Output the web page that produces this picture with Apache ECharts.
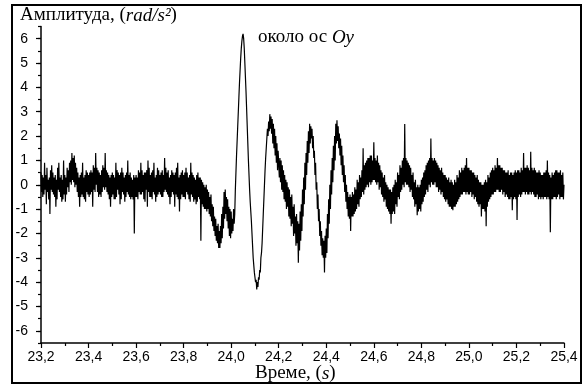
<!DOCTYPE html>
<html><head><meta charset="utf-8">
<script src="https://cdn.jsdelivr.net/npm/echarts@6/dist/echarts.min.js"></script>
<style>html,body{margin:0;padding:0;background:#fff}#c{width:588px;height:387px}</style>
</head><body><div id="c"></div>
<script>
// sampling grid of the trace (seconds)
const startTime = 23.2;
const sampleStep = 0.0025;
// amplitude, 4 samples per 0.01 s (rad/s^2)
const amplitude = [
// 23.2
0.5,-0.3,0.4,-0.5, 0.3,-0.4,0.9,-0.2, 0.4,-0.8,0.7,-0.3, 0.2,-0.6,0.3,-1.2, 0.6,-0.2,0.8,-0.3,
0.5,-0.4,0.3,-0.5, 0.4,-0.9,0.2,-0.6, 0.7,-0.2,0.9,-0.3, 0.3,-0.5,0.4,-0.7, 0.2,-0.6,1.0,-0.4,
// 23.3
0.4,-0.7,0.3,-0.4, 0.7,-0.1,0.6,-0.3, 0.9,0.1,1.0,0.0, 1.3,0.2,1.1,0.1, 1.2,-0.1,0.9,0.0,
0.7,-0.3,0.5,-0.5, 0.3,-0.9,0.4,-0.5, 0.5,-0.4,0.9,-0.5, 0.3,-0.6,0.4,-0.7, 0.6,-0.3,0.5,-0.4,
// 23.4
0.4,-0.5,0.5,-0.4, 0.6,-0.3,0.5,-0.9, 0.8,-0.2,0.7,-0.3, 1.3,0.0,0.7,-0.3, 0.6,-0.5,0.5,-0.4,
0.4,-0.5,0.6,-0.3, 0.8,-0.1,0.7,-0.2, 1.3,-0.1,0.6,-0.3, 0.5,-0.4,0.4,-0.6, 0.3,-0.9,0.4,-0.5,
// 23.5
0.5,-0.4,0.4,-0.6, 0.3,-0.6,0.9,-0.5, 0.6,-0.2,0.5,-0.4, 0.4,-0.8,0.5,-0.6, 0.7,-0.3,0.5,-0.4,
0.3,-0.7,0.4,-0.5, 0.5,-0.3,1.0,-0.4, 0.4,-0.5,0.5,-0.6, 0.3,-0.5,0.2,-0.6, 0.4,-2.0,0.3,-0.5,
// 23.6
0.4,-0.5,0.3,-0.6, 0.6,-0.3,0.5,-0.4, 0.9,-0.4,0.6,-0.3, 0.4,-0.6,0.5,-0.7, 0.5,-0.2,0.6,-0.9,
1.0,-0.3,0.7,-0.5, 0.4,-0.5,0.5,-0.6, 0.6,-0.3,0.9,-0.4, 0.3,-0.7,0.4,-0.5, 0.7,-0.4,0.6,-0.3,
// 23.7
0.4,-0.4,0.5,-0.5, 0.6,-0.5,0.4,-0.3, 1.1,-0.2,0.7,-0.3, 0.5,-0.4,0.6,-0.5, 0.3,-0.8,0.4,-0.5,
0.6,-0.3,0.5,-0.4, 0.4,-0.9,0.5,-0.4, 0.7,-0.5,0.9,-0.6, 0.3,-1.1,0.4,-0.6, 0.5,-0.4,0.6,-0.5,
// 23.8
0.4,-0.5,0.5,-0.6, 0.7,-0.3,0.5,-0.4, 0.3,-0.6,0.4,-0.7, 0.9,-0.4,0.5,-0.5, 0.4,-0.7,0.3,-0.6,
0.2,-0.8,0.4,-0.7, 0.5,-0.5,0.3,-0.6, 0.3,-2.3,0.2,-0.8, 0.1,-0.9,0.0,-1.0, -0.1,-1.0,0.0,-1.1,
// 23.9
-0.2,-1.0,-0.3,-1.2, -0.5,-1.3,-0.4,-1.5, -0.8,-1.7,-0.9,-1.9, -1.3,-2.1,-1.4,-2.3, -1.7,-2.4,-1.6,-2.6,
-1.9,-2.6,-1.7,-2.4, -1.2,-2.2,-0.9,-1.8, -0.3,-1.4,-0.2,-1.2, -0.5,-1.5,-0.6,-1.8, -0.9,-2.1,-1.0,-2.2,
// 24.0
-1.1,-2.0,-1.4,-1.9, -1.0,-1.6,-1.2,-0.2, 0.5,1.2,1.8,2.4, 3.0,3.6,4.2,4.7, 5.2,5.6,5.9,6.1,
6.2,6.0,5.6,5.0, 4.4,3.8,3.1,2.4, 1.7,1.0,0.4,-0.2, -0.7,-1.1,-1.5,-2.0, -2.5,-3.0,-3.3,-3.6,
// 24.1
-3.8,-4.0,-3.9,-4.3, -4.0,-4.2,-3.8,-3.9, -3.5,-3.6,-3.0,-2.8, -2.4,-1.8,-1.2,-0.6, 0.0,0.6,1.1,1.5,
1.9,2.3,2.0,2.6, 2.2,2.9,2.3,2.8, 2.1,2.7,1.7,2.5, 1.5,2.3,1.2,2.0, 0.9,1.7,0.6,1.4,
// 24.2
1.4,0.3,1.1,0.1, 1.0,-0.2,0.8,-0.3, 0.6,-0.6,0.4,-0.7, 0.2,-1.0,0.1,-0.9, -0.1,-1.3,-0.2,-1.4,
-0.5,-1.7,-0.4,-1.6, -0.9,-2.1,-0.8,-2.0, -1.3,-2.5,-1.2,-2.4, -1.5,-3.2,-1.6,-2.7, -1.1,-2.3,-0.8,-1.9,
// 24.3
-0.2,-1.3,0.3,-0.8, 0.9,-0.2,1.3,0.4, 1.8,0.9,2.2,1.3, 2.5,1.7,2.4,1.9, 2.3,1.5,2.0,1.1,
1.4,0.4,0.9,-0.2, 0.1,-1.0,-0.4,-1.5, -1.0,-2.1,-1.5,-2.5, -1.9,-2.9,-2.2,-3.0, -2.3,-3.6,-2.1,-3.0,
// 24.4
-1.8,-2.8,-1.2,-2.2, -0.6,-1.6,0.0,-1.0, 0.6,-0.4,1.1,0.1, 1.6,0.6,2.0,1.0, 2.5,1.7,2.65,1.8,
2.4,1.5,2.1,1.2, 1.9,0.8,1.6,0.4, 1.2,0.1,0.8,-0.3, 0.4,-0.7,0.0,-1.0, -0.3,-1.3,-0.5,-1.4,
// 24.5
-0.4,-1.9,-0.5,-1.3, -0.3,-1.3,-0.4,-1.2, -0.1,-1.1,-0.2,-1.0, 0.2,-0.8,0.1,-0.9, 0.4,-0.6,0.3,-0.5,
0.6,-0.3,1.5,-0.4, 0.8,-0.2,0.9,-0.1, 1.0,0.0,1.1,-0.1, 1.1,0.1,1.2,0.0, 1.2,0.1,1.0,0.2,
// 24.6
1.75,0.2,1.1,0.1, 1.0,0.0,1.2,0.1, 0.9,-0.2,0.8,-0.1, 0.6,-0.4,0.5,-0.5, 0.3,-0.7,0.4,-0.6,
0.1,-0.9,0.0,-1.0, -0.1,-1.1,-0.2,-1.2, -0.2,-1.6,-0.3,-1.2, -0.1,-1.1,0.0,-1.2, 0.2,-0.8,0.1,-0.9,
// 24.7
0.5,-0.5,0.4,-0.6, 0.8,-0.3,0.7,-0.2, 1.0,0.0,1.1,-0.1, 2.5,0.1,1.1,0.0, 1.0,0.0,0.9,-0.1,
0.8,-0.3,0.7,-0.2, 0.4,-0.5,0.5,-0.6, 0.1,-0.9,0.2,-0.8, -0.1,-1.25,0.0,-1.1, -0.1,-1.0,0.0,-1.1,
// 24.8
0.2,-0.8,0.3,-0.7, 0.5,-0.5,0.6,-0.4, 0.8,-0.2,0.9,-0.3, 1.0,0.0,1.1,-0.1, 1.9,0.1,1.1,0.0,
1.0,0.0,1.1,0.1, 1.0,-0.1,0.9,-0.1, 0.8,-0.3,0.7,-0.2, 0.6,-0.4,0.7,-0.3, 0.5,-0.5,0.4,-0.6,
// 24.9
0.4,-0.7,0.3,-0.6, 0.2,-0.8,0.3,-0.9, 0.1,-0.9,0.2,-1.0, 0.1,-1.05,0.0,-0.9, 0.2,-0.9,0.1,-0.8,
0.4,-0.7,0.3,-0.6, 0.6,-0.5,0.5,-0.4, 0.7,-0.4,0.6,-0.3, 0.7,-0.3,0.8,-0.4, 1.1,-0.3,0.7,-0.4,
// 25.0
0.7,-0.4,0.6,-0.3, 0.6,-0.5,0.5,-0.4, 0.5,-0.6,0.4,-0.5, 0.3,-0.7,0.4,-0.8, 0.2,-0.9,0.1,-0.8,
0.1,-1.3,0.0,-1.0, 0.0,-1.0,0.1,-1.1, 0.2,-1.7,0.1,-0.9, 0.4,-0.7,0.3,-0.6, 0.5,-0.5,0.6,-0.4,
// 25.1
0.7,-0.4,0.6,-0.3, 0.8,-0.3,0.7,-0.2, 1.1,-0.2,0.8,-0.3, 0.8,-0.3,0.7,-0.2, 0.7,-0.4,0.6,-0.3,
0.6,-0.5,0.5,-0.4, 0.5,-0.5,0.6,-0.6, 0.4,-0.6,0.5,-0.5, 0.5,-1.05,0.4,-0.6, 0.5,-0.5,0.6,-0.6,
// 25.2
0.5,-1.45,0.6,-0.5, 0.6,-0.4,0.5,-0.5, 0.7,-0.4,0.6,-0.3, 1.3,-0.3,0.7,-0.4, 0.7,-0.3,0.8,-0.4,
0.7,-0.4,0.6,-0.3, 1.35,-0.4,0.7,-0.3, 0.6,-0.4,0.7,-0.5, 0.6,-0.5,0.5,-0.4, 0.5,-0.6,0.6,-0.5,
// 25.3
0.5,-0.6,0.4,-0.5, 0.4,-0.6,0.5,-0.5, 0.5,-0.5,0.6,-0.6, 1.0,-0.5,0.5,-0.6, 0.4,-1.95,0.3,-0.6,
0.5,-0.6,0.4,-0.5, 0.5,-0.5,0.6,-0.6, 0.6,-0.5,0.5,-0.4, 0.5,-0.6,0.6,-0.5, 0.4,-0.5,0.5,-0.6,
0.0
];
const xRange = [23.2, 25.4];
const xTickStep = 0.2;
const yRange = [-6.5, 6.5];
const yMajorTicks = [-6,-5,-4,-3,-2,-1,0,1,2,3,4,5,6];
const yTitle = 'Амплитуда, ';
const yUnit = 'rad/s²';
const xTitle = 'Време, ';
const xUnit = 's';
const noteText = 'около ос ';
const noteAxis = 'Oy';

const trace = amplitude.map((v, i) => [startTime + i * sampleStep, v]);

const serif = '"Liberation Serif", "Times New Roman", serif';
const sans = '"Liberation Sans", Arial, sans-serif';
const chart = echarts.init(document.getElementById('c'), null, {renderer: 'canvas'});
const titleRich = (size) => ({
  n: {fontFamily: serif, fontSize: size, fontWeight: 'normal', color: '#000'},
  i: {fontFamily: serif, fontSize: size, fontWeight: 'normal', fontStyle: 'italic', color: '#000'}
});
chart.setOption({
  animation: false,
  backgroundColor: '#fff',
  title: [
    {text: '{n|' + yTitle + '(}{i|' + yUnit + '}{n|)}', left: 20, top: 6, padding: 0,
     textStyle: {fontWeight: 'normal', rich: titleRich(19)}},
    {text: '{n|' + noteText + '}{i|' + noteAxis + '}', left: 258, top: 28, padding: 0,
     textStyle: {fontWeight: 'normal', rich: titleRich(19)}},
    {text: '{n|' + xTitle + '(}{i|' + xUnit + '}{n|)}', left: 255, top: 364, padding: 0,
     textStyle: {fontWeight: 'normal', rich: titleRich(19)}}
  ],
  graphic: [{type: 'rect', shape: {x: 12, y: 5, width: 569, height: 378},
    style: {fill: 'none', stroke: '#000', lineWidth: 2}, silent: true}],
  grid: {left: 41, right: 24, top: 26.5, bottom: 44, containLabel: false},
  xAxis: {
    type: 'value', min: xRange[0], max: xRange[1], interval: xTickStep,
    axisLine: {show: true, onZero: false, lineStyle: {color: '#000', width: 1.5}},
    axisTick: {show: true, inside: false, length: 5, lineStyle: {color: '#000', width: 1.2}},
    minorTick: {show: true, splitNumber: 2, length: 3, lineStyle: {color: '#000', width: 1.2}},
    splitLine: {show: false},
    axisLabel: {margin: 7, fontFamily: sans, fontSize: 14, color: '#000',
      formatter: v => v.toFixed(1).replace('.', ',')}
  },
  yAxis: [{
    type: 'value', min: yRange[0], max: yRange[1], interval: 0.5, position: 'left',
    axisLine: {show: true, onZero: false, lineStyle: {color: '#000', width: 1.5}},
    axisTick: {show: true, inside: false, length: 3, lineStyle: {color: '#000', width: 1.2}},
    splitLine: {show: false},
    axisLabel: {margin: 13, fontFamily: sans, fontSize: 14, color: '#000',
      formatter: v => (Math.abs(v - Math.round(v)) < 1e-6 ? String(Math.round(v)) : '')}
  }, {
    type: 'value', min: yRange[0], max: yRange[1], interval: 0.5, position: 'left', offset: 0,
    axisLine: {show: false},
    axisTick: {show: true, inside: false, length: 5, customValues: yMajorTicks, lineStyle: {color: '#000', width: 1.2}},
    splitLine: {show: false},
    axisLabel: {show: false}
  }],
  series: [{
    type: 'line', data: trace, xAxisIndex: 0, yAxisIndex: 0,
    showSymbol: false, symbol: 'none', sampling: null,
    lineStyle: {color: '#000', width: 1.2}, silent: true
  }]
});
</script></body></html>
